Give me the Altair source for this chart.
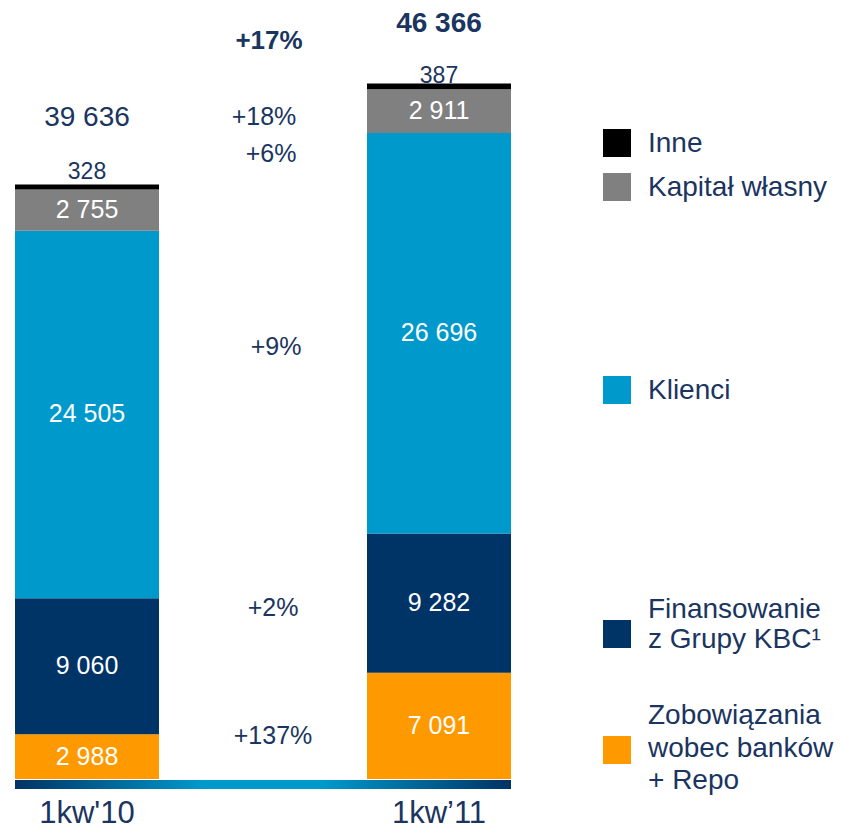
import altair as alt
import pandas as pd

# ---------------- data ----------------
quarters = ["1kw'10", "1kw’11"]
categories = [
    "Zobowiązania wobec banków + Repo",
    "Finansowanie z Grupy KBC¹",
    "Klienci",
    "Kapitał własny",
    "Inne",
]
values_1kw10 = [2988, 9060, 24505, 2755, 328]
values_1kw11 = [7091, 9282, 26696, 2911, 387]
totals = [39636, 46366]
changes = ["+137%", "+2%", "+9%", "+6%", "+18%"]
total_change = "+17%"
legend_lines = [
    ["Zobowiązania", "wobec banków", "+ Repo"],
    ["Finansowanie", "z Grupy KBC¹"],
    ["Klienci"],
    ["Kapitał własny"],
    ["Inne"],
]

# ---------------- style / layout ----------------
colors = ["#ff9900", "#003366", "#0099cc", "#808080", "#000000"]
TEXT = "#1a3560"
FONT = "Liberation Sans"
W, H = 496, 765
YMAX = 51000
change_pos = [(258, 722), (258, 594), (261, 333), (256, 140), (249, 103)]
total_change_pos = (254, 27)
total_label_y = [104, 10]
inne_label_y = [157.5, 62]
legend_square_x = 602
legend_square_y = [736, 620, 376, 173, 129]
legend_text_x = 633
legend_line_y = [[702, 735, 767], [596, 626], [377], [174], [130]]


def fmt(v):
    return f"{v:,}".replace(",", " ")


# ---------------- tables ----------------
rows = []
for q, vals in zip(quarters, [values_1kw10, values_1kw11]):
    base = 0
    for c, v in zip(categories, vals):
        rows.append(dict(quarter=q, category=c, start=base, end=base + v,
                         mid=base + v / 2, label=fmt(v)))
        base += v
bars_df = pd.DataFrame(rows)

totals_df = pd.DataFrame({
    "quarter": quarters,
    "label": [fmt(t) for t in totals],
    "py": total_label_y,
})
inne_df = pd.DataFrame({
    "quarter": quarters,
    "label": [fmt(values_1kw10[-1]), fmt(values_1kw11[-1])],
    "py": inne_label_y,
})
change_df = pd.DataFrame({
    "label": changes,
    "px": [p[0] for p in change_pos],
    "py": [p[1] for p in change_pos],
})
total_change_df = pd.DataFrame({
    "label": [total_change],
    "px": [total_change_pos[0]],
    "py": [total_change_pos[1]],
})
leg_sq_df = pd.DataFrame({
    "category": categories,
    "px": [legend_square_x] * len(categories),
    "py": legend_square_y,
})
leg_txt_rows = []
for lines, ys in zip(legend_lines, legend_line_y):
    for t, y in zip(lines, ys):
        leg_txt_rows.append(dict(label=t, px=legend_text_x, py=y))
leg_txt_df = pd.DataFrame(leg_txt_rows)
qdf = pd.DataFrame({"quarter": quarters})

# ---------------- encodings ----------------
xq = alt.X("quarter:N", sort=quarters,
           scale=alt.Scale(domain=quarters, paddingInner=0.5909, paddingOuter=0),
           axis=None)
color_scale = alt.Scale(domain=categories, range=colors)

bars = alt.Chart(bars_df).mark_bar(strokeWidth=0).encode(
    x=xq,
    y=alt.Y("start:Q", scale=alt.Scale(domain=[0, YMAX], nice=False, zero=True), axis=None),
    y2="end:Q",
    color=alt.Color("category:N", scale=color_scale, legend=None),
)

seg_labels = alt.Chart(bars_df).transform_filter(
    alt.datum.category != "Inne"
).mark_text(color="white", font=FONT, fontSize=25, baseline="middle").encode(
    x=xq, y=alt.Y("mid:Q"), text="label:N"
)

inne_labels = alt.Chart(inne_df).mark_text(
    color=TEXT, font=FONT, fontSize=23, baseline="middle"
).encode(x=xq, y=alt.Y("py:Q", scale=None), text="label:N")

total_reg = alt.Chart(totals_df).transform_filter(
    alt.datum.quarter == quarters[0]
).mark_text(color=TEXT, font=FONT, fontSize=28, baseline="middle").encode(
    x=xq, y=alt.Y("py:Q", scale=None), text="label:N"
)
total_bold = alt.Chart(totals_df).transform_filter(
    alt.datum.quarter == quarters[1]
).mark_text(color=TEXT, font=FONT, fontSize=28, fontWeight="bold", baseline="middle").encode(
    x=xq, y=alt.Y("py:Q", scale=None), text="label:N"
)

change_labels = alt.Chart(change_df).mark_text(
    color=TEXT, font=FONT, fontSize=25, baseline="middle", align="center"
).encode(x=alt.X("px:Q", scale=None), y=alt.Y("py:Q", scale=None), text="label:N")

total_change_label = alt.Chart(total_change_df).mark_text(
    color=TEXT, font=FONT, fontSize=26, fontWeight="bold", baseline="middle", align="center"
).encode(x=alt.X("px:Q", scale=None), y=alt.Y("py:Q", scale=None), text="label:N")

gradient = alt.Gradient(
    gradient="linear",
    stops=[
        alt.GradientStop(offset=0, color="#003366"),
        alt.GradientStop(offset=0.38, color="#0099cc"),
        alt.GradientStop(offset=0.62, color="#0099cc"),
        alt.GradientStop(offset=1, color="#003366"),
    ],
    x1=0, x2=1, y1=0, y2=0,
)
band = alt.Chart(pd.DataFrame({"a": [0]})).mark_rect(color=gradient).encode(
    x=alt.value(0), x2=alt.value(W), y=alt.value(H + 1), y2=alt.value(H + 10)
)

x_labels = alt.Chart(qdf).mark_text(
    color=TEXT, font=FONT, fontSize=31, baseline="alphabetic"
).encode(x=xq, y=alt.value(H + 44), text="quarter:N")

legend_squares = alt.Chart(leg_sq_df).mark_square(size=784, opacity=1).encode(
    x=alt.X("px:Q", scale=None), y=alt.Y("py:Q", scale=None),
    color=alt.Color("category:N", scale=color_scale, legend=None),
)
legend_text = alt.Chart(leg_txt_df).mark_text(
    color=TEXT, font=FONT, fontSize=28, align="left", baseline="middle"
).encode(x=alt.X("px:Q", scale=None), y=alt.Y("py:Q", scale=None), text="label:N")

chart = alt.layer(
    bars, band, seg_labels, inne_labels, total_reg, total_bold,
    change_labels, total_change_label, x_labels, legend_squares, legend_text,
).properties(
    width=W, height=H,
    padding={"left": 7, "top": 6, "right": 324, "bottom": 50},
    autosize="none",
).configure_view(strokeWidth=0)

chart.save("out.html", embed_options={"renderer": "svg", "actions": False})
